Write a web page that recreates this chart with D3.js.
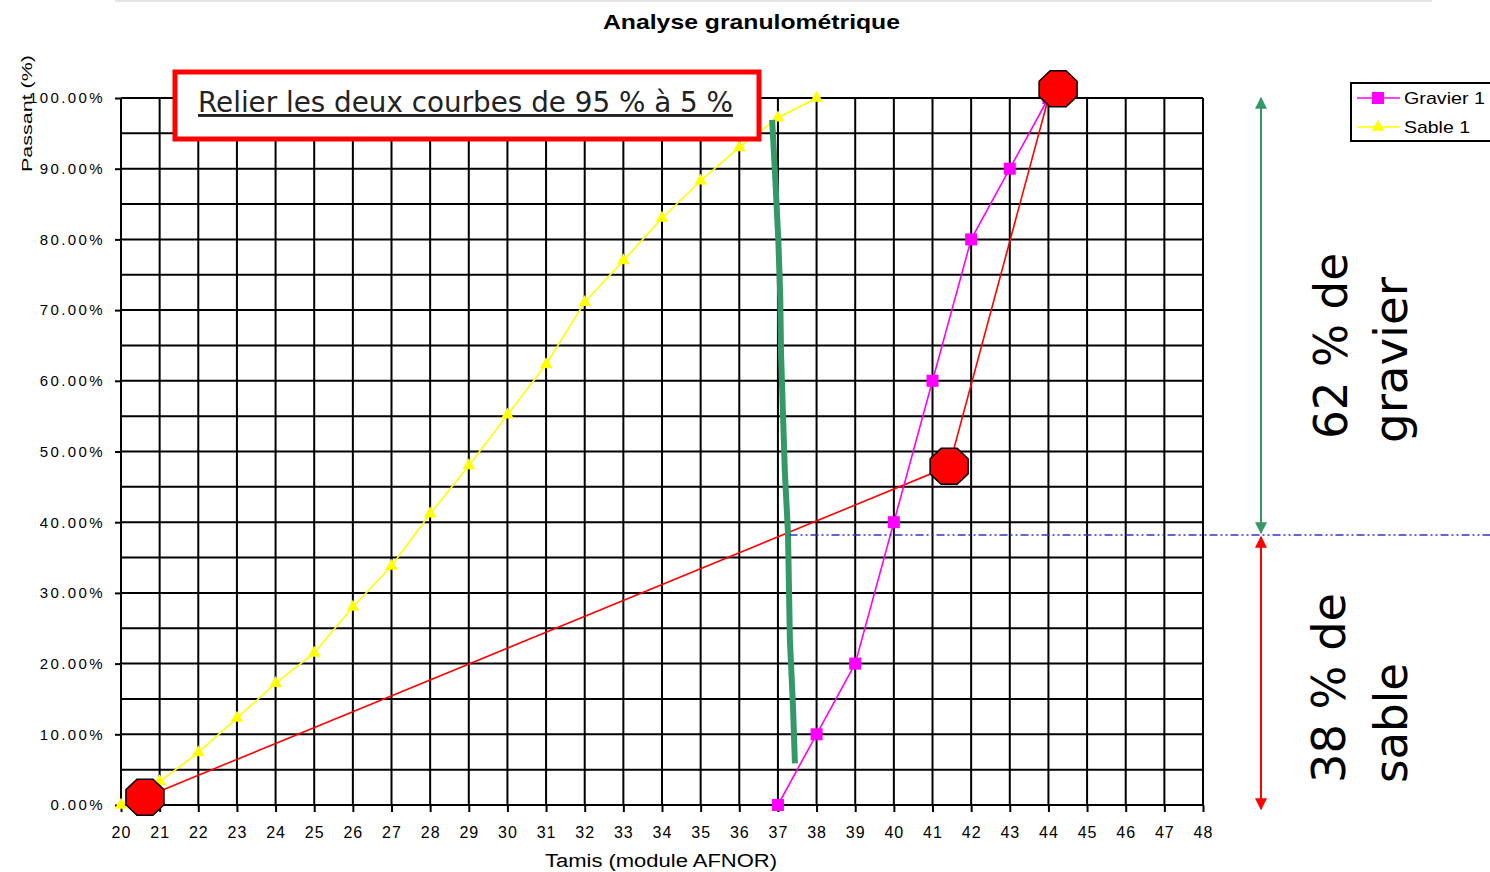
<!DOCTYPE html>
<html><head><meta charset="utf-8">
<script src="https://cdn.jsdelivr.net/npm/d3@7"></script>
<style>body{margin:0;background:#fff;} svg{display:block;}</style>
</head><body>
<script>
// ---- data ----
const sableX = [20,21,22,23,24,25,26,27,28,29,30,31,32,33,34,35,36,37,38];
const sableY = [0,0.033,0.074,0.123,0.172,0.215,0.28,0.338,0.412,0.48,0.552,0.623,0.711,0.77,0.83,0.883,0.93,0.972,1.0];
const gravierX = [37,38,39,40,41,42,43,44];
const gravierY = [0,0.10,0.20,0.40,0.60,0.80,0.90,1.0];
const redLineX = [20.62,41.43,44.0];
const redLineY = [0.011,0.479,1.0];
const octX = [20.62,41.43,44.25];
const octY = [0.011,0.479,1.013];
const greenX = [36.85,36.93,37.01,37.06,37.08,37.13,37.18,37.26,37.31,37.39,37.44];
const greenY = [0.969,0.888,0.799,0.719,0.639,0.554,0.47,0.385,0.233,0.139,0.059];
const splitY = 0.382;
const xTicks = d3.range(20,49);
const yTicks = d3.range(0,1.0001,0.1);
const yGrid = d3.range(0,1.0001,0.05);
const title = "Analyse granulométrique";
const xTitle = "Tamis (module AFNOR)";
const yTitle = "Passant (%)";
const note = "Relier les deux courbes de 95 % à 5 %";
const legendNames = ["Gravier 1","Sable 1"];

const W = 1490, H = 872;
const svg = d3.select("body").append("svg").attr("width",W).attr("height",H);
const x = d3.scaleLinear().domain([20,48]).range([121,1203]);
const y = d3.scaleLinear().domain([0,1]).range([805,98]);

// faint top border
svg.append("line").attr("x1",115).attr("x2",1432).attr("y1",1).attr("y2",1).attr("stroke","#e4e4e4").attr("stroke-width",2);

const fontTick = "Liberation Sans, Arial, sans-serif";
// title
svg.append("text").attr("x",603).attr("y",29)
  .attr("font-family",fontTick).attr("font-weight","bold").attr("font-size",21)
  .attr("textLength",297).attr("lengthAdjust","spacingAndGlyphs")
  .text(title);

// grid
const g = svg.append("g");
g.selectAll(".vg").data(xTicks).join("line")
  .attr("x1",d=>x(d)).attr("x2",d=>x(d)).attr("y1",y(1)).attr("y2",y(0))
  .attr("stroke","#000").attr("stroke-width",2);
g.selectAll(".hg").data(yGrid).join("line")
  .attr("x1",x(20)).attr("x2",x(48)).attr("y1",d=>y(d)).attr("y2",d=>y(d))
  .attr("stroke","#000").attr("stroke-width",2);

// axes
const xAxis = svg.append("g").attr("transform",`translate(0,${y(0)})`)
  .call(d3.axisBottom(x).tickValues(xTicks).tickFormat(d3.format("d")).tickSize(7).tickPadding(15));
xAxis.select(".domain").remove();
xAxis.selectAll("line").attr("stroke","#000").attr("stroke-width",2);
xAxis.selectAll("text").attr("font-family",fontTick).attr("font-size",16).attr("letter-spacing",1).attr("fill","#000");

const yAxis = svg.append("g").attr("transform",`translate(${x(20)},0)`)
  .call(d3.axisLeft(y).tickValues(yTicks).tickFormat(d3.format(".2%")).tickSize(6).tickPadding(10));
yAxis.select(".domain").remove();
yAxis.selectAll("line").attr("stroke","#000").attr("stroke-width",2);
yAxis.selectAll("text").attr("font-family",fontTick).attr("font-size",15).attr("letter-spacing",2.4).attr("fill","#000");

svg.append("text").attr("x",545).attr("y",867)
  .attr("font-family",fontTick).attr("font-size",18).attr("textLength",232).attr("lengthAdjust","spacingAndGlyphs").text(xTitle);
svg.append("text").attr("transform","translate(32,172) rotate(-90)")
  .attr("font-family",fontTick).attr("font-size",15).attr("textLength",117).attr("lengthAdjust","spacingAndGlyphs").text(yTitle);

// series
const line = d3.line().x(d=>x(d[0])).y(d=>y(d[1]));
const sable = sableX.map((v,i)=>[v,sableY[i]]);
const gravier = gravierX.map((v,i)=>[v,gravierY[i]]);

// red construction line
const redPts = redLineX.map((v,i)=>[v,redLineY[i]]);
svg.append("path").attr("d",line(redPts)).attr("fill","none").attr("stroke","#ff0000").attr("stroke-width",1.6);

svg.append("path").attr("d",line(sable)).attr("fill","none").attr("stroke","#ffff00").attr("stroke-width",1.6);
svg.append("path").attr("d",line(gravier)).attr("fill","none").attr("stroke","#ff00ff").attr("stroke-width",1.6);

const tri = d3.symbol().type(d3.symbolTriangle).size(70);
svg.selectAll(".st").data(sable).join("path")
  .attr("d",tri).attr("transform",d=>`translate(${x(d[0])},${y(d[1])})`).attr("fill","#ffff00");
svg.selectAll(".gs").data(gravier).join("rect")
  .attr("x",d=>x(d[0])-6).attr("y",d=>y(d[1])-6).attr("width",12).attr("height",12).attr("fill","#ff00ff");

// green line
const greenPts = greenX.map((v,i)=>[v,greenY[i]]);
svg.append("path").attr("d",line(greenPts)).attr("fill","none").attr("stroke","#339966").attr("stroke-width",6);

// blue dotted split line
svg.append("line").attr("x1",x(37.3)).attr("x2",W).attr("y1",y(splitY)).attr("y2",y(splitY))
  .attr("stroke","#3333cc").attr("stroke-width",1.5).attr("stroke-dasharray","8,3,2,3,2,3");

// octagons
function octagon(cx,cy,rx,ry){
  const a = 0.42;
  const pts = [[-rx*a,-ry],[rx*a,-ry],[rx,-ry*a],[rx,ry*a],[rx*a,ry],[-rx*a,ry],[-rx,ry*a],[-rx,-ry*a]];
  return "M"+pts.map(p=>[cx+p[0],cy+p[1]].join(",")).join("L")+"Z";
}
svg.selectAll(".oct").data(octX.map((v,i)=>[v,octY[i]])).join("path")
  .attr("d",d=>octagon(x(d[0]),y(d[1]),19,18)).attr("fill","#ff0000").attr("stroke","#000").attr("stroke-width",1.5);

// note box
svg.append("rect").attr("x",175).attr("y",72).attr("width",584).attr("height",67)
  .attr("fill","#fff").attr("stroke","#ff0000").attr("stroke-width",5);
svg.append("text").attr("x",198).attr("y",112).attr("font-family","DejaVu Sans, sans-serif")
  .attr("font-size",29).attr("textLength",535).attr("lengthAdjust","spacingAndGlyphs")
  .attr("text-decoration","underline").attr("fill","#222").text(note);

// arrows
const defs = svg.append("defs");
function marker(id,color){
  defs.append("marker").attr("id",id).attr("viewBox","0 0 10 10").attr("refX",9).attr("refY",5)
    .attr("markerWidth",6).attr("markerHeight",6).attr("orient","auto-start-reverse")
    .attr("markerUnits","strokeWidth")
    .append("path").attr("d","M0,0L10,5L0,10Z").attr("fill",color);
}
marker("ag","#339966"); marker("ar","#ff0000");
const ax = 1261;
svg.append("line").attr("x1",ax).attr("x2",ax).attr("y1",y(1)).attr("y2",y(splitY)-2)
  .attr("stroke","#339966").attr("stroke-width",2).attr("marker-start","url(#ag)").attr("marker-end","url(#ag)");
svg.append("line").attr("x1",ax).attr("x2",ax).attr("y1",y(splitY)+2).attr("y2",y(0)+4)
  .attr("stroke","#ff0000").attr("stroke-width",2).attr("marker-start","url(#ar)").attr("marker-end","url(#ar)");

// side texts
const sideFont = "DejaVu Sans, sans-serif";
function sideText(bx,by,str,len){
  svg.append("text").attr("transform",`translate(${bx},${by}) rotate(-90)`)
    .attr("font-family",sideFont).attr("font-size",46).attr("textLength",len).attr("lengthAdjust","spacingAndGlyphs")
    .text(str);
}
sideText(1347,439,"62 % de",186);
sideText(1407,443,"gravier",166);
sideText(1345,783,"38 % de",190);
sideText(1407,783,"sable",120);

// legend
const lg = svg.append("g");
lg.append("rect").attr("x",1351).attr("y",83).attr("width",145).attr("height",58).attr("fill","#fff").attr("stroke","#000").attr("stroke-width",2);
const lcol = ["#ff00ff","#ffff00"];
const lLen = [81,66];
legendNames.forEach((n,i)=>{
  const ly = 98 + i*29;
  lg.append("line").attr("x1",1357).attr("x2",1400).attr("y1",ly).attr("y2",ly).attr("stroke",lcol[i]).attr("stroke-width",1.6);
  if(i===0) lg.append("rect").attr("x",1372).attr("y",ly-6).attr("width",12).attr("height",12).attr("fill",lcol[i]);
  else lg.append("path").attr("d",tri).attr("transform",`translate(1378,${ly})`).attr("fill",lcol[i]);
  lg.append("text").attr("x",1404).attr("y",ly+6).attr("font-family",fontTick).attr("font-size",17)
    .attr("textLength",lLen[i]).attr("lengthAdjust","spacingAndGlyphs").text(n);
});
</script>
</body></html>
